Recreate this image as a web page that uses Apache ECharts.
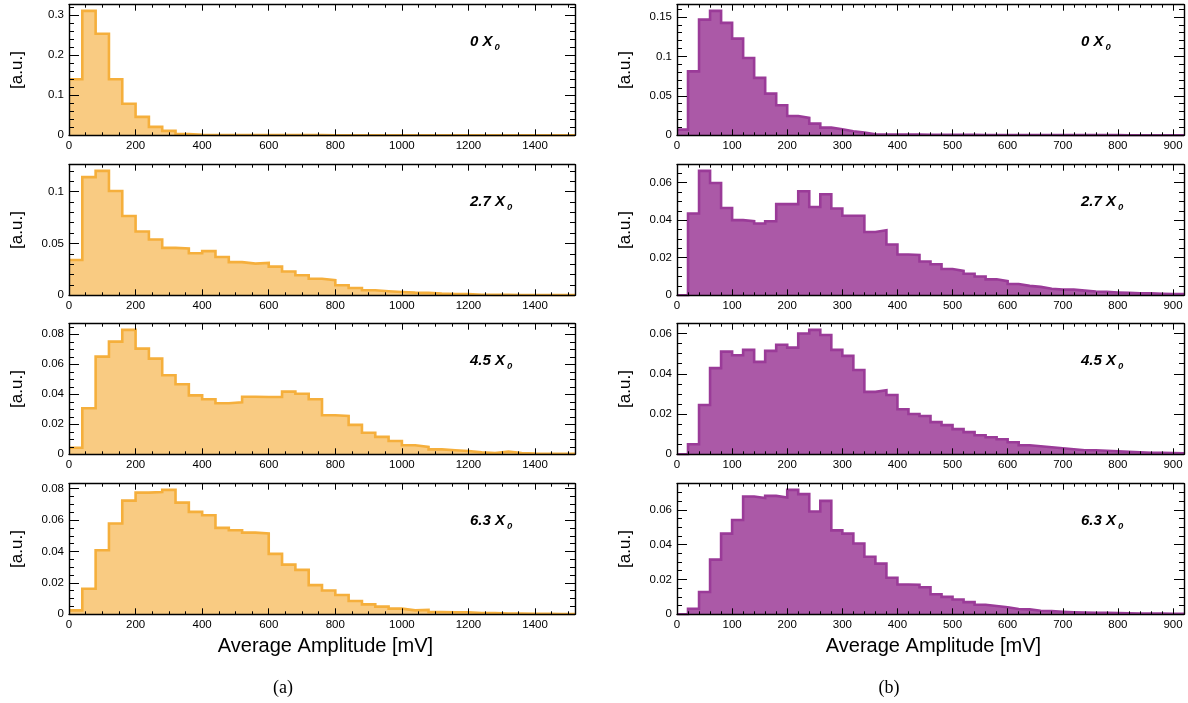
<!DOCTYPE html>
<html>
<head>
<meta charset="utf-8">
<script src="https://cdn.jsdelivr.net/npm/echarts@6/dist/echarts.min.js"></script>
<style>
  html, body { margin: 0; padding: 0; background: #fff; }
  #chart { width: 1188px; height: 703px; }
</style>
</head>
<body>
<div id="chart"></div>
<script>
// ---- binning ----
const binWidthA = 40;   // mV, column (a)
const binCountA = 38;
const binWidthB = 20;   // mV, column (b)
const binCountB = 46;

// ---- panel labels (radiator thickness) ----
const thicknessLabels = ['0', '2.7', '4.5', '6.3'];

// ---- column (a): normalised average-amplitude histograms ----
const histA_0X0 = [0.140, 0.311, 0.254, 0.140, 0.079, 0.046, 0.021, 0.011, 0.003, 0.0012,
  0.0008, 0.0007, 0.0006, 0.0006, 0.0005, 0.0005, 0.0004, 0.0004, 0.0004, 0.0003,
  0.0003, 0.0003, 0.0003, 0.0002, 0.0002, 0.0002, 0.0002, 0.0002, 0.0002, 0.0002,
  0.0001, 0.0001, 0.0001, 0.0001, 0.0001, 0.0001, 0.0001, 0.0001];
const histA_27X0 = [0.034, 0.114, 0.120, 0.1006, 0.0765, 0.0616, 0.0539, 0.0458, 0.0452, 0.0406,
  0.0426, 0.037, 0.032, 0.0306, 0.0313, 0.0277, 0.0229, 0.0194, 0.016, 0.0145,
  0.0097, 0.0071, 0.0048, 0.0039, 0.0032, 0.0026, 0.0023, 0.0016, 0.0013, 0.0012,
  0.0005, 0.0004, 0.0004, 0.0003, 0.0003, 0.0003, 0.0002, 0.0002];
const histA_45X0 = [0.0044, 0.0307, 0.0651, 0.0751, 0.0829, 0.0704, 0.0638, 0.0527, 0.0467, 0.0393,
  0.0367, 0.034, 0.0347, 0.0384, 0.0382, 0.0382, 0.0418, 0.0404, 0.0367, 0.026,
  0.0256, 0.0196, 0.0144, 0.0116, 0.0089, 0.006, 0.0049, 0.0033, 0.0027, 0.0022,
  0.0013, 0.0009, 0.0018, 0.0009, 0.0005, 0.0004, 0.0004, 0.0003];
const histA_63X0 = [0.0025, 0.0163, 0.0408, 0.0578, 0.0724, 0.0775, 0.0779, 0.0792, 0.0711, 0.0652,
  0.0631, 0.055, 0.0535, 0.052, 0.0514, 0.0385, 0.0316, 0.0283, 0.0186, 0.0152,
  0.0123, 0.0085, 0.0063, 0.0049, 0.0036, 0.0025, 0.0028, 0.0015, 0.0013, 0.0013,
  0.0008, 0.0008, 0.0004, 0.0004, 0.0003, 0.0003, 0.0002, 0.0002];

// ---- column (b): normalised average-amplitude histograms ----
const histB_0X0 = [0.0072, 0.081, 0.1466, 0.1576, 0.1424, 0.1225, 0.098, 0.0727, 0.0528, 0.038,
  0.0245, 0.022, 0.0148, 0.0097, 0.0076, 0.0051, 0.0034, 0.0012, 0.0011, 0.001,
  0.0009, 0.0008, 0.0007, 0.0007, 0.0006, 0.0005, 0.0005, 0.0004, 0.0004, 0.0004,
  0.0003, 0.0003, 0.0003, 0.0003, 0.0002, 0.0002, 0.0002, 0.0002, 0.0002, 0.0002,
  0.0001, 0.0001, 0.0001, 0.0001, 0.0001, 0.0001];
const histB_27X0 = [0, 0.0435, 0.0662, 0.0598, 0.0465, 0.040, 0.0394, 0.0382, 0.0394, 0.0485,
  0.0485, 0.0554, 0.047, 0.0538, 0.0462, 0.0423, 0.0423, 0.0337, 0.0346, 0.027,
  0.0217, 0.0215, 0.018, 0.0165, 0.014, 0.013, 0.0115, 0.010, 0.0085, 0.0075,
  0.006, 0.005, 0.0045, 0.0035, 0.003, 0.003, 0.0025, 0.002, 0.0018, 0.0015,
  0.0013, 0.001, 0.001, 0.0008, 0.0007, 0.0006];
const histB_45X0 = [0, 0.005, 0.0245, 0.0428, 0.051, 0.0492, 0.0519, 0.0459, 0.0514, 0.0544,
  0.053, 0.060, 0.0618, 0.0593, 0.0519, 0.0489, 0.0419, 0.031, 0.0318, 0.0295,
  0.0224, 0.020, 0.019, 0.016, 0.0145, 0.0125, 0.011, 0.0095, 0.0085, 0.0075,
  0.006, 0.0045, 0.004, 0.0035, 0.003, 0.0025, 0.002, 0.002, 0.0018, 0.0015,
  0.0012, 0.001, 0.0008, 0.0007, 0.0006, 0.0005];
const histB_63X0 = [0, 0.0032, 0.0128, 0.0314, 0.0463, 0.0541, 0.0676, 0.0667, 0.068, 0.067,
  0.0714, 0.069, 0.059, 0.0651, 0.0482, 0.0463, 0.0406, 0.033, 0.0291, 0.021,
  0.0171, 0.017, 0.0155, 0.0115, 0.010, 0.0085, 0.007, 0.0055, 0.0048, 0.004,
  0.003, 0.0028, 0.002, 0.0018, 0.0015, 0.0012, 0.001, 0.0009, 0.0008, 0.0007,
  0.0006, 0.0005, 0.0004, 0.0004, 0.0003, 0.0003];

// ---- axis tick steps per panel ----
const yMajorA = [0.1, 0.05, 0.02, 0.02];
const yMinorA = [0.02, 0.01, 0.005, 0.005];
const yMajorB = [0.05, 0.02, 0.02, 0.02];
const yMinorB = [0.01, 0.005, 0.005, 0.005];

// ---- layout ----
const FONT = "'Liberation Sans', Arial, Helvetica, sans-serif";
const gridTops = [4.7, 164.7, 323.7, 483.7];
const gridHeight = 130.6;

const columns = [
  {
    left: 69, width: 506, binWidth: binWidthA, binCount: binCountA,
    xMajor: 200, xMinor: 50,
    fill: '#F9CB82', line: '#F5AF3C',
    hists: [histA_0X0, histA_27X0, histA_45X0, histA_63X0],
    yMajor: yMajorA, yMinor: yMinorA,
    labelX: 470, titleX: 325.5, tagX: 283, tag: '(a)', unitX: 17.5
  },
  {
    left: 677, width: 507, binWidth: binWidthB, binCount: binCountB,
    xMajor: 100, xMinor: 20,
    fill: '#AB59A7', line: '#9A3B98',
    hists: [histB_0X0, histB_27X0, histB_45X0, histB_63X0],
    yMajor: yMajorB, yMinor: yMinorB,
    labelX: 1081, titleX: 933.5, tagX: 889, tag: '(b)', unitX: 625.8
  }
];

const grids = [], xAxes = [], yAxes = [], series = [], graphics = [];

// plain numbers, no thousands separator
const plainNumber = v => String(+(+v).toFixed(6));

function axisSet(base, pos, interval, tickLen, withLine, withLabel) {
  return Object.assign({}, base, {
    position: pos,
    interval: interval,
    z: 4,
    splitLine: { show: false },
    axisPointer: { show: false },
    axisLine: { show: withLine, onZero: false, lineStyle: { color: '#000', width: 1.4 } },
    axisTick: { show: true, inside: true, length: tickLen, lineStyle: { color: '#000', width: 1 } },
    minorTick: { show: false },
    axisLabel: withLabel
      ? { show: true, showMaxLabel: false, color: '#000', fontSize: 11.5, fontFamily: FONT, margin: 5, formatter: plainNumber }
      : { show: false }
  });
}

columns.forEach((col, ci) => {
  const maxEdge = col.binWidth * col.binCount;
  col.hists.forEach((vals, pi) => {
    const g = grids.length;
    grids.push({ left: col.left, top: gridTops[pi], width: col.width, height: gridHeight, containLabel: false });

    const yMax = Math.max.apply(null, vals) * 1.05;
    const xBase = { gridIndex: g, type: 'value', min: 0, max: maxEdge };
    const yBase = { gridIndex: g, type: 'value', min: 0, max: yMax };
    const xi = xAxes.length, yi = yAxes.length;

    xAxes.push(axisSet(xBase, 'bottom', col.xMajor, 6, true, true));
    xAxes.push(axisSet(xBase, 'bottom', col.xMinor, 3, false, false));
    xAxes.push(axisSet(xBase, 'top', col.xMajor, 6, true, false));
    xAxes.push(axisSet(xBase, 'top', col.xMinor, 3, false, false));

    yAxes.push(axisSet(yBase, 'left', col.yMajor[pi], 10, true, true));
    yAxes.push(axisSet(yBase, 'left', col.yMinor[pi], 5, false, false));
    yAxes.push(axisSet(yBase, 'right', col.yMajor[pi], 10, true, false));
    yAxes.push(axisSet(yBase, 'right', col.yMinor[pi], 5, false, false));

    // step outline: each bin value holds from its lower edge to the next edge
    const pts = [];
    for (let i = 0; i <= vals.length; i++) {
      pts.push([i * col.binWidth, vals[Math.min(i, vals.length - 1)]]);
    }
    series.push({
      type: 'line',
      xAxisIndex: xi,
      yAxisIndex: yi,
      data: pts,
      step: 'end',
      symbol: 'none',
      z: 2,
      silent: true,
      lineStyle: { color: col.line, width: 2.6, join: 'miter' },
      areaStyle: { color: col.fill, opacity: 1 },
      animation: false
    });

    // thickness annotation, e.g. "2.7 X0"
    graphics.push({
      type: 'text',
      x: col.labelX,
      y: gridTops[pi] + 37.4,
      z: 10,
      style: {
        text: '{m|' + thicknessLabels[pi] + ' X}{s|0}',
        verticalAlign: 'middle',
        align: 'left',
        rich: {
          m: { fontFamily: FONT, fontSize: 15, fontWeight: 'bold', fontStyle: 'italic', lineHeight: 20, fill: '#000', color: '#000' },
          s: { fontFamily: FONT, fontSize: 9.5, fontWeight: 'bold', fontStyle: 'italic', lineHeight: 9, verticalAlign: 'bottom', padding: [0, 0, 0, 2], fill: '#000', color: '#000' }
        }
      }
    });

    // y-axis unit
    graphics.push({
      type: 'text',
      x: col.unitX,
      y: gridTops[pi] + gridHeight / 2,
      rotation: Math.PI / 2,
      style: { text: '[a.u.]', fontFamily: FONT, fontSize: 17, fill: '#000', align: 'center', verticalAlign: 'middle' }
    });
  });

  // x-axis title below the bottom panel
  graphics.push({
    type: 'text',
    x: col.titleX,
    y: 646,
    style: { text: 'Average Amplitude [mV]', fontFamily: FONT, fontSize: 20, fill: '#000', align: 'center', verticalAlign: 'middle' }
  });
  // sub-figure tag
  graphics.push({
    type: 'text',
    x: col.tagX,
    y: 688,
    style: { text: col.tag, fontFamily: "'Liberation Serif', 'Times New Roman', serif", fontSize: 18, fill: '#000', align: 'center', verticalAlign: 'middle' }
  });
});

const chart = echarts.init(document.getElementById('chart'), null, { renderer: 'canvas' });
chart.setOption({
  animation: false,
  backgroundColor: '#fff',
  grid: grids,
  xAxis: xAxes,
  yAxis: yAxes,
  series: series,
  graphic: graphics
});
</script>
</body>
</html>
